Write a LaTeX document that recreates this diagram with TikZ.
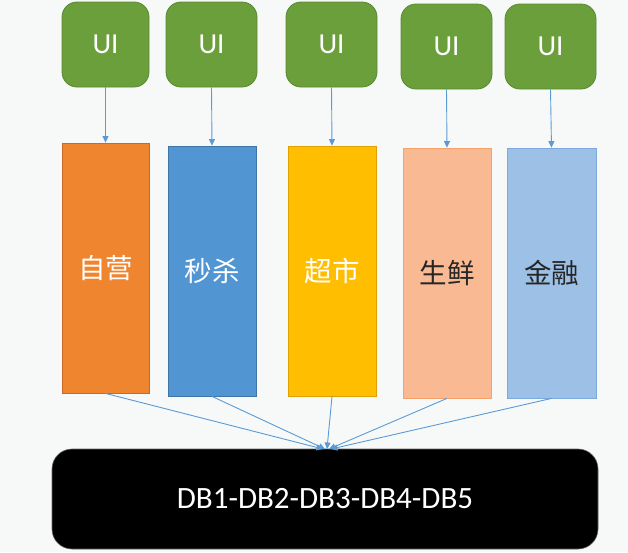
\documentclass[tikz,border=0pt]{standalone}
\usepackage{fontspec}
\setmainfont{Carlito}
\newfontfamily\cjk{Noto Sans CJK SC}
\usetikzlibrary{arrows.meta}
\definecolor{bgc}{HTML}{F7F9F9}
\definecolor{uigreen}{HTML}{6B9F3B}
\definecolor{uigreenb}{HTML}{5A8832}
\definecolor{c1}{HTML}{F0852F}
\definecolor{c1b}{HTML}{C8692A}
\definecolor{c2}{HTML}{5195D3}
\definecolor{c2b}{HTML}{3E74A6}
\definecolor{c3}{HTML}{FFBE00}
\definecolor{c3b}{HTML}{DDA200}
\definecolor{c4}{HTML}{F8B993}
\definecolor{c4b}{HTML}{F6A06A}
\definecolor{c5}{HTML}{9CC0E6}
\definecolor{c5b}{HTML}{7EA9DC}
\definecolor{arrc}{HTML}{5B9BD5}
\tikzset{
  uibox/.style={draw=uigreenb, fill=uigreen, line width=0.8pt, rounded corners=15pt,
    minimum height=85pt, inner sep=0pt, text=white, font=\fontsize{29}{33}\selectfont},
  modbox/.style={line width=0.8pt, minimum height=250pt, inner sep=0pt,
    font=\cjk\fontsize{27.5}{32}\selectfont},
  dbbox/.style={fill=black, draw=black!60, line width=0.6pt, rounded corners=20pt,
    minimum width=546pt, minimum height=100pt, inner sep=0pt, text=white,
    font=\fontsize{31}{36}\selectfont},
  conn/.style={draw=arrc, line width=0.9pt, -{Triangle[length=6.5pt,width=6pt]}}
}
\begin{document}
\begin{tikzpicture}[x=1pt,y=-1pt]
\useasboundingbox (0,0) rectangle (628,552);
\fill[bgc] (0,0) rectangle (628,552);
% UI boxes
\node[uibox, minimum width=87pt] (u1) at (105.5,44.5) {UI};
\node[uibox, minimum width=91pt] (u2) at (211.5,44.5) {UI};
\node[uibox, minimum width=91pt] (u3) at (331.5,44.5) {UI};
\node[uibox, minimum width=91pt] (u4) at (446.5,46.5) {UI};
\node[uibox, minimum width=91pt] (u5) at (550.5,46.5) {UI};
% module boxes
\node[modbox, draw=c1b, fill=c1, minimum width=87pt, text=white] (b1) at (105.5,268) {自营};
\node[modbox, draw=c2b, fill=c2, minimum width=88pt, text=white] (b2) at (212,271) {秒杀};
\node[modbox, draw=c3b, fill=c3, minimum width=88pt, text=white] (b3) at (332,271) {超市};
\node[modbox, draw=c4b, fill=c4, minimum width=88pt, text=black!85] (b4) at (447,273) {生鲜};
\node[modbox, draw=c5b, fill=c5, minimum width=89pt, text=black!85] (b5) at (551.5,273) {金融};
% DB box
\node[dbbox] (db) at (325,499) {DB1-DB2-DB3-DB4-DB5};
\coordinate (t1) at (323,449);
\coordinate (t2) at (325,449);
\coordinate (t3) at (327,449);
\coordinate (t4) at (329,449);
\coordinate (t5) at (331,449);
% connectors
\draw[conn] (u1.south) -- (b1.north);
\draw[conn] (u2.south) -- (b2.north);
\draw[conn] (u3.south) -- (b3.north);
\draw[conn] (u4.south) -- (b4.north);
\draw[conn] (u5.south) -- (b5.north);
\draw[conn] (b1.south) -- (t1);
\draw[conn] (b2.south) -- (t2);
\draw[conn] (b3.south) -- (t3);
\draw[conn] (b4.south) -- (t4);
\draw[conn] (b5.south) -- (t5);
\end{tikzpicture}
\end{document}
